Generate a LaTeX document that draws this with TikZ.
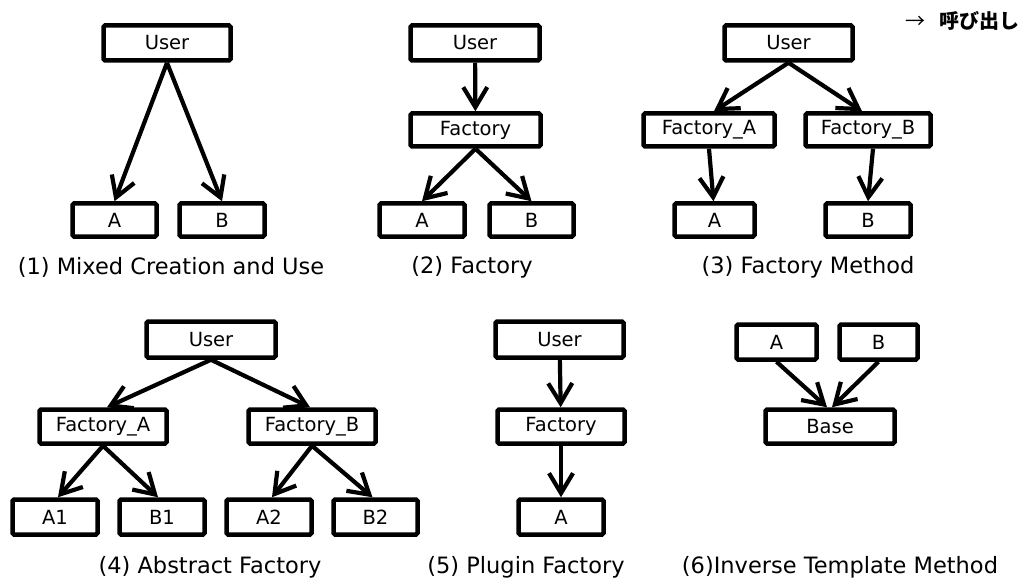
\documentclass[tikz,border=0pt]{standalone}
\usepackage{fontspec}
\setmainfont{DejaVu Sans}
\newfontfamily\jpfont{Noto Sans CJK JP}
\usetikzlibrary{arrows.meta}
\begin{document}
\begin{tikzpicture}[x=1pt,y=-1pt,
  box/.style={draw, line width=4.5pt, rounded corners=1.5pt, minimum height=34pt,
    inner sep=0pt, font=\fontsize{19.5}{23}\selectfont},
  arr/.style={line width=4.2pt, -{Straight Barb[length=20pt,width=24pt]}},
  caption/.style={font=\fontsize{22.5}{27}\selectfont, inner sep=0pt}]
\useasboundingbox (0,0) rectangle (1024,585);

% (1) Mixed Creation and Use
\node[box, minimum width=127pt, minimum height=35pt] (u1) at (167,43) {User};
\node[box, minimum width=84pt, minimum height=33pt] (a1) at (114.5,220) {A};
\node[box, minimum width=85pt, minimum height=33pt] (b1) at (222,220) {B};
\draw[arr] (u1.south) -- (a1.north);
\draw[arr] (u1.south) -- (b1.north);
\node[caption] (c1) at (171,267) {(1) Mixed Creation and Use};

% (2) Factory
\node[box, minimum width=129pt, minimum height=35pt] (u2) at (475,43) {User};
\node[box, minimum width=130pt, minimum height=33pt] (f2) at (475.5,130) {Factory};
\node[box, minimum width=85pt, minimum height=33pt] (a2) at (422,220) {A};
\node[box, minimum width=84pt, minimum height=33pt] (b2) at (531.5,220) {B};
\draw[arr] (u2) -- (f2);
\draw[arr] (f2.south) -- (a2.north);
\draw[arr] (f2.south) -- (b2.north);
\node[caption] (c2) at (472,267) {(2) Factory};

% (3) Factory Method
\node[box, minimum width=128pt, minimum height=35pt] (u3) at (788.5,43) {User};
\node[box, minimum width=131pt, minimum height=33pt] (fa3) at (709,130) {Factory\_A};
\node[box, minimum width=125pt, minimum height=33pt] (fb3) at (868,130) {Factory\_B};
\node[box, minimum width=80pt, minimum height=33pt] (a3) at (714.5,220) {A};
\node[box, minimum width=85pt, minimum height=33pt] (b3) at (868,220) {B};
\draw[arr] (u3.south) -- ([xshift=5pt]fa3.north);
\draw[arr] (u3.south) -- ([xshift=-6pt]fb3.north);
\draw[arr] (fa3.south) -- ([xshift=-1pt]a3.north);
\draw[arr] ([xshift=5pt]fb3.south) -- (b3.north);
\node[caption] (c3) at (808,267) {(3) Factory Method};

% (4) Abstract Factory
\node[box, minimum width=129pt, minimum height=36pt] (u4) at (211,339.5) {User};
\node[box, minimum width=127pt] (fa4) at (103,426.5) {Factory\_A};
\node[box, minimum width=127pt] (fb4) at (312,426.5) {Factory\_B};
\node[box, minimum width=85pt, minimum height=35pt] (a14) at (55,517) {A1};
\node[box, minimum width=85pt, minimum height=35pt] (b14) at (162,517) {B1};
\node[box, minimum width=85pt, minimum height=35pt] (a24) at (269,517) {A2};
\node[box, minimum width=84pt, minimum height=35pt] (b24) at (375.5,517) {B2};
\draw[arr] (u4.south) -- ([xshift=4pt]fa4.north);
\draw[arr] (u4.south) -- ([xshift=-2pt]fb4.north);
\draw[arr] (fa4.south) -- ([xshift=3pt]a14.north);
\draw[arr] (fa4.south) -- ([xshift=-4pt]b14.north);
\draw[arr] (fb4.south) -- ([xshift=3pt]a24.north);
\draw[arr] (fb4.south) -- ([xshift=-3pt]b24.north);
\node[caption] (c4) at (210,567) {(4) Abstract Factory};

% (5) Plugin Factory
\node[box, minimum width=128pt, minimum height=36pt] (u5) at (559.5,339.5) {User};
\node[box, minimum width=127pt] (f5) at (561,426.5) {Factory};
\node[box, minimum width=85pt, minimum height=35pt] (a5) at (561,517) {A};
\draw[arr] (u5) -- (f5);
\draw[arr] (f5) -- (a5);
\node[caption] (c5) at (526,567) {(5) Plugin Factory};

% (6) Inverse Template Method
\node[box, minimum width=80pt, minimum height=35pt] (a6) at (776.5,342) {A};
\node[box, minimum width=78pt, minimum height=35pt] (b6) at (878.5,342) {B};
\node[box, minimum width=129pt] (base6) at (830,426.5) {Base};
\draw[arr] (a6.south) -- ([xshift=-3pt]base6.north);
\draw[arr] (b6.south) -- ([xshift=2pt]base6.north);
\node[caption] (c6) at (840,567) {(6)Inverse Template Method};

% legend
\node[anchor=east, inner sep=0pt, font=\fontsize{20}{24}\selectfont\jpfont] (legend) at (1020,21)
  {→\hspace{14pt}\bfseries 呼び出し};
\end{tikzpicture}
\end{document}
